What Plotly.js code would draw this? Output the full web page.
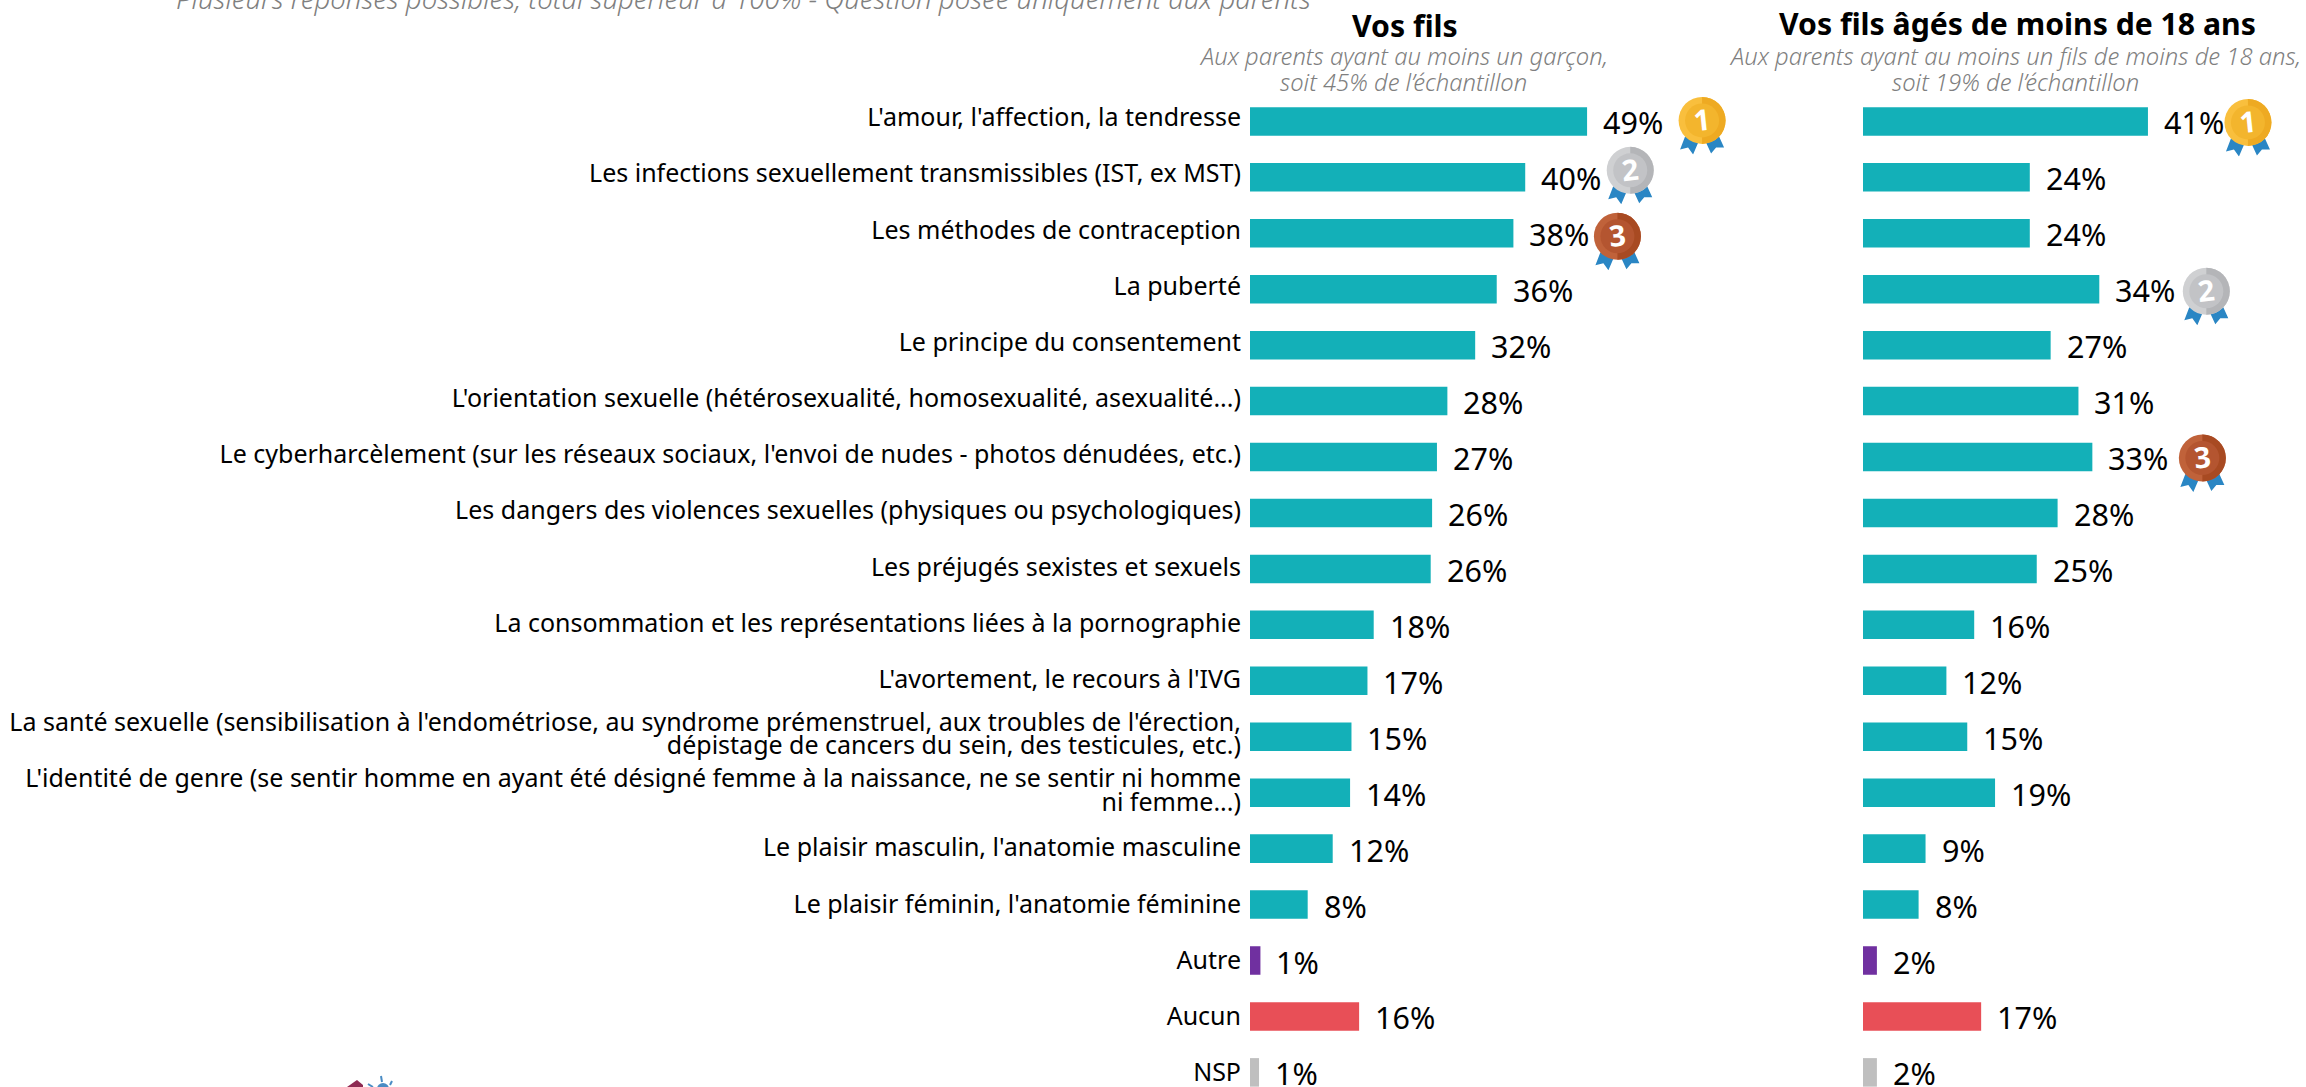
<!DOCTYPE html>
<html><head><meta charset="utf-8">
<script src="https://cdn.plot.ly/plotly-3.0.1.min.js"></script>
<style>html,body{margin:0;padding:0;background:#fff}#c{width:2306px;height:1087px}</style></head>
<body><div id="c"></div>
<script>
const categories = ["L'amour, l'affection, la tendresse","Les infections sexuellement transmissibles (IST, ex MST)","Les méthodes de contraception","La puberté","Le principe du consentement","L'orientation sexuelle (hétérosexualité, homosexualité, asexualité...)","Le cyberharcèlement (sur les réseaux sociaux, l'envoi de nudes - photos dénudées, etc.)","Les dangers des violences sexuelles (physiques ou psychologiques)","Les préjugés sexistes et sexuels","La consommation et les représentations liées à la pornographie","L'avortement, le recours à l'IVG","La santé sexuelle (sensibilisation à l'endométriose, au syndrome prémenstruel, aux troubles de l'érection,<br>dépistage de cancers du sein, des testicules, etc.)","L'identité de genre (se sentir homme en ayant été désigné femme à la naissance, ne se sentir ni homme<br>ni femme...)","Le plaisir masculin, l'anatomie masculine","Le plaisir féminin, l'anatomie féminine","Autre","Aucun","NSP"];
const filsValues = [48.5,39.6,37.9,35.5,32.4,28.4,26.9,26.2,26,17.8,16.9,14.6,14.4,11.9,8.3,1.5,15.7,1.3];
const filsLabels = [49,40,38,36,32,28,27,26,26,18,17,15,14,12,8,1,16,1];
const mineursValues = [41,24,24,34,27,31,33,28,25,16,12,15,19,9,8,2,17,2];
const mineursLabels = [41,24,24,34,27,31,33,28,25,16,12,15,19,9,8,2,17,2];
const filsMedals = {0:1,1:2,2:3};
const mineursMedals = {0:1,3:2,6:3};
const barColors = categories.map((c,i)=> c==="Autre" ? "#7030a0" : c==="Aucun" ? "#e84f57" : c==="NSP" ? "#bfbfbf" : "#13b0b8");
const titleFils = "Vos fils", titleMineurs = "Vos fils âgés de moins de 18 ans";
const subFils = ["Aux parents ayant au moins un garçon,","soit 45% de l’échantillon"];
const subMineurs = ["Aux parents ayant au moins un fils de moins de 18 ans,","soit 19% de l’échantillon"];
const note = "Plusieurs réponses possibles, total supérieur à 100% - Question posée uniquement aux parents";

const W=2306,H=1087,PX=6.95,F="'Noto Sans','Open Sans',sans-serif";
const yTop=(0-121.4)/55.94, yBot=(H-121.4)/55.94;
const lTop=(0-117.5)/56.17, lBot=(H-117.5)/56.17;
const xa=(left,max)=>({domain:[left/W,(left+max*PX)/W],range:[0,max],visible:false,fixedrange:true});
function medal(rank){
  const p={1:["#f9bf3d","#eeaa22","#f3b52d"],2:["#cfd0d2","#b4b5b8","#c2c3c6"],3:["#c0623a","#a84a22","#b45530"]}[rank];
  const s=`<svg xmlns="http://www.w3.org/2000/svg" width="50" height="58" viewBox="0 0 50 58">
  <path d="M8 40 L3 53 L11 51 L16 58 L22 44Z" fill="#2a86c4"/><path d="M42 40 L47 51 L39 51 L34 57 L28 44Z" fill="#2a86c4"/>
  <circle cx="25" cy="24" r="23.5" fill="${p[0]}"/><path d="M25 .5A23.5 23.5 0 0 1 25 47.5Z" fill="${p[1]}"/>
  <circle cx="25" cy="24" r="17" fill="${p[2]}"/>
  <text x="25" y="34" font-family="Noto Sans" font-weight="bold" font-size="29" fill="#fff" text-anchor="middle" transform="rotate(-6 25 24)">${rank}</text></svg>`;
  return "data:image/svg+xml;base64,"+btoa(s);
}
const logo=`<svg xmlns="http://www.w3.org/2000/svg" width="60" height="15" viewBox="340 1075 60 15">
<path d="M357 1080 L347 1087 L363 1087 L363 1085Z" fill="#8e2a52"/><circle cx="383" cy="1089" r="6" fill="#4a8cc4"/>
<path d="M381 1076 L382 1082 M392 1081 L390 1085 M368 1084 L373 1087" stroke="#4a8cc4" stroke-width="2" fill="none"/></svg>`;
const ann=[], images=[{source:"data:image/svg+xml;base64,"+btoa(logo),xref:"paper",yref:"paper",x:340/W,y:1-1075/H,sizex:60/W,sizey:15/H,xanchor:"left",yanchor:"top",sizing:"stretch",layer:"above"}];
function txt(x,y,text,font){ann.push({xref:"paper",yref:"paper",x:x/W,y:1-y/H,text,showarrow:false,xanchor:"center",yanchor:"middle",font});}
function series(values,labels,xref,medals,gaps){
  values.forEach((v,i)=>{
    ann.push({xref,yref:"y",x:v,y:categories[i],text:labels[i]+"%",showarrow:false,xanchor:"left",yanchor:"middle",xshift:14,yshift:-1,font:{family:F,size:30.5,color:"#000"}});
    if(medals[i]) images.push({source:medal(medals[i]),xref,yref:"y",x:v+gaps[medals[i]][0]/PX,y:i+gaps[medals[i]][1]/55.94,sizex:50/PX,sizey:58/55.94,xanchor:"left",yanchor:"top",sizing:"stretch",layer:"above"});
  });
}
series(filsValues,filsLabels,"x",filsMedals,{1:[90,-25],2:[80,-31],3:[79,-21]});
series(mineursValues,mineursLabels,"x2",mineursMedals,{1:[75,-23],2:[82,-22],3:[85,-23]});
const head={family:F,size:30.2,color:"#000",weight:700};
txt(1405,26,titleFils,head);
txt(2017,23,titleMineurs,head);
const sub={family:F,size:23.8,color:"#7f7f7f",style:"italic",weight:300};
subFils.forEach((t,i)=>txt(1403.5,56+i*26.5,t,sub));
subMineurs.forEach((t,i)=>txt(2015,56+i*26.5,t,sub));
txt(743,-2,note,{family:F,size:27.6,color:"#7f7f7f",style:"italic",weight:300});

const common={type:"bar",orientation:"h",y:categories,marker:{color:barColors},hoverinfo:"skip",cliponaxis:false};
Plotly.newPlot("c",[
 Object.assign({},common,{x:filsValues,xaxis:"x",yaxis:"y"}),
 Object.assign({},common,{x:mineursValues,xaxis:"x2",yaxis:"y"}),
 {type:"bar",orientation:"h",y:categories,x:categories.map(()=>0),xaxis:"x",yaxis:"y2",marker:{opacity:0},hoverinfo:"skip"}
],{
 width:W,height:H,margin:{l:0,r:0,t:0,b:0,pad:0},paper_bgcolor:"#fff",plot_bgcolor:"rgba(0,0,0,0)",showlegend:false,bargap:0.49,
 xaxis:xa(1250,70),xaxis2:xa(1863,63),
 yaxis:{domain:[0,1],type:"category",categoryorder:"array",categoryarray:categories,range:[yBot,yTop],anchor:"x",showgrid:false,showline:false,zeroline:false,ticks:"",showticklabels:false,automargin:false,fixedrange:true},
 yaxis2:{domain:[0,1],type:"category",overlaying:"y",side:"left",categoryorder:"array",categoryarray:categories,range:[lBot,lTop],anchor:"x",showgrid:false,showline:false,zeroline:false,ticks:"",ticklabelstandoff:8,automargin:false,tickfont:{family:F,size:25,color:"#000"},fixedrange:true,tickmode:"array",tickvals:categories,ticktext:categories},
 annotations:ann,images
},{staticPlot:true,displayModeBar:false}).then(()=>{
 document.querySelectorAll("#c .y2tick text").forEach(t=>{
  const l=t.querySelectorAll("tspan.line");
  if(l.length===2){l[0].setAttribute("dy","3px");l[1].setAttribute("dy","26.5px");}
 });
});
</script></body></html>
